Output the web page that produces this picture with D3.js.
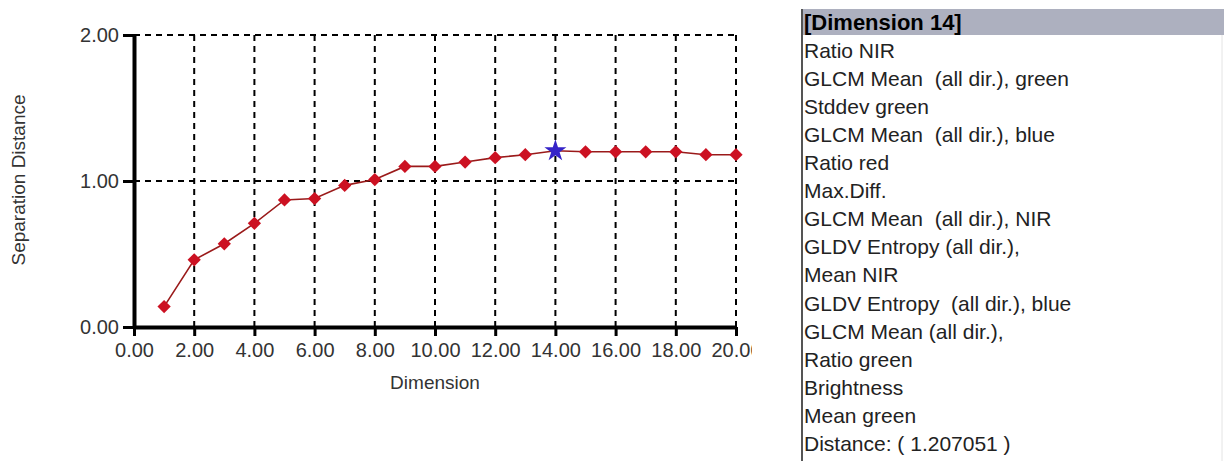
<!DOCTYPE html>
<html>
<head>
<meta charset="utf-8">
<script src="https://cdn.jsdelivr.net/npm/d3@7"></script>
<style>
  body { margin: 0; background: #fff; }
  svg { display: block; font-family: "Liberation Sans", Arial, sans-serif; }
</style>
</head>
<body>
<div id="chart"></div>
<script>
// data
var dimensions = [1, 2, 3, 4, 5, 6, 7, 8, 9, 10, 11, 12, 13, 14, 15, 16, 17, 18, 19, 20];
var distances = [0.14, 0.46, 0.57, 0.71, 0.87, 0.88, 0.97, 1.01, 1.10, 1.10, 1.13, 1.16, 1.18, 1.207, 1.20, 1.20, 1.20, 1.20, 1.18, 1.18];
var selectedDim = 14;
var xTicks = [0, 2, 4, 6, 8, 10, 12, 14, 16, 18, 20];
var yTicks = [0, 1, 2];
var listTitle = "[Dimension 14]";
var features = [
    "Ratio NIR",
    "GLCM Mean  (all dir.), green",
    "Stddev green",
    "GLCM Mean  (all dir.), blue",
    "Ratio red",
    "Max.Diff.",
    "GLCM Mean  (all dir.), NIR",
    "GLDV Entropy (all dir.),",
    "Mean NIR",
    "GLDV Entropy  (all dir.), blue",
    "GLCM Mean (all dir.),",
    "Ratio green",
    "Brightness",
    "Mean green"
];
var distanceText = "Distance: ( 1.207051 )";

var width = 1224, height = 461;

var svg = d3.select("#chart").append("svg")
    .attr("width", width)
    .attr("height", height);

// the chart control is cut off on its right side
svg.append("clipPath").attr("id", "chartclip")
    .append("rect").attr("x", 0).attr("y", 0).attr("width", 752).attr("height", height);
var chart = svg.append("g").attr("clip-path", "url(#chartclip)");

var x = d3.scaleLinear().domain([0, 20]).range([134, 736]);
var y = d3.scaleLinear().domain([0, 2]).range([327, 35]);

// dashed grid
var grid = chart.append("g");
grid.selectAll("line.vx")
    .data(xTicks.filter(function(d) { return d > 0; }))
    .enter().append("line")
    .attr("x1", function(d) { return x(d); })
    .attr("x2", function(d) { return x(d); })
    .attr("y1", y(2))
    .attr("y2", y(0))
    .attr("stroke", "#000")
    .attr("stroke-width", 2)
    .attr("stroke-dasharray", "6,5");
grid.selectAll("line.hy")
    .data(yTicks.filter(function(d) { return d > 0; }))
    .enter().append("line")
    .attr("x1", x(0))
    .attr("x2", x(20))
    .attr("y1", function(d) { return y(d); })
    .attr("y2", function(d) { return y(d); })
    .attr("stroke", "#000")
    .attr("stroke-width", 2)
    .attr("stroke-dasharray", "6,5");

// axes
var xAxis = chart.append("g")
    .attr("transform", "translate(0," + y(0) + ")")
    .call(d3.axisBottom(x).tickValues(xTicks).tickFormat(d3.format(".2f")).tickSize(9).tickSizeOuter(0));
var yAxis = chart.append("g")
    .attr("transform", "translate(" + x(0) + ",0)")
    .call(d3.axisLeft(y).tickValues(yTicks).tickFormat(d3.format(".2f")).tickSize(11).tickSizeOuter(0));

[xAxis, yAxis].forEach(function(a) {
    a.select(".domain").attr("stroke", "#000").attr("stroke-width", 4);
    a.selectAll(".tick line").attr("stroke", "#000").attr("stroke-width", 3);
    a.selectAll(".tick text")
	.attr("fill", "#333")
	.attr("font-size", 20)
	.attr("font-family", "'Liberation Sans', Arial, sans-serif");
});
xAxis.selectAll(".tick text").attr("dy", "0.95em").attr("y", 11);
yAxis.selectAll(".tick text").attr("x", -15);

// axis titles
chart.append("text")
    .attr("x", x(10))
    .attr("y", 389)
    .attr("text-anchor", "middle")
    .attr("font-size", 19)
    .attr("fill", "#333")
    .text("Dimension");
chart.append("text")
    .attr("transform", "translate(25,180) rotate(-90)")
    .attr("text-anchor", "middle")
    .attr("font-size", 19)
    .attr("fill", "#333")
    .text("Separation Distance");

// series
var pts = dimensions.map(function(d, i) { return [d, distances[i]]; });
var line = d3.line()
    .x(function(d) { return x(d[0]); })
    .y(function(d) { return y(d[1]); });
chart.append("path")
    .datum(pts)
    .attr("d", line)
    .attr("fill", "none")
    .attr("stroke", "#9a1a1a")
    .attr("stroke-width", 1.6);

var square = d3.symbol().type(d3.symbolSquare).size(88);
var star = d3.symbol().type(d3.symbolStar).size(150);
chart.selectAll("path.pt")
    .data(pts)
    .enter().append("path")
    .attr("class", "pt")
    .attr("transform", function(d) {
	var t = "translate(" + x(d[0]) + "," + y(d[1]) + ")";
	return d[0] === selectedDim ? t : t + " rotate(45)";
    })
    .attr("d", function(d) { return d[0] === selectedDim ? star() : square(); })
    .attr("fill", function(d) { return d[0] === selectedDim ? "#3523c8" : "#cc1122"; });

// list panel on the right
var list = svg.append("g");
list.append("rect")
    .attr("x", 803).attr("y", 9)
    .attr("width", width - 803).attr("height", 26)
    .attr("fill", "#adb0bf");
list.append("line")
    .attr("x1", 802).attr("x2", 802)
    .attr("y1", 9).attr("y2", height)
    .attr("stroke", "#555").attr("stroke-width", 2);
list.append("line")
    .attr("x1", 1222).attr("x2", 1222)
    .attr("y1", 35).attr("y2", height)
    .attr("stroke", "#e4e4e4").attr("stroke-width", 1);

var rowY = d3.scaleLinear().domain([0, 1]).range([22, 50.1]);
list.append("text")
    .attr("x", 804)
    .attr("y", rowY(0) + 8)
    .attr("font-size", 22)
    .attr("font-weight", "bold")
    .attr("fill", "#000")
    .text(listTitle);
list.selectAll("text.feat")
    .data(features.concat([distanceText]))
    .enter().append("text")
    .attr("class", "feat")
    .attr("x", 804)
    .attr("y", function(d, i) { return rowY(i + 1) + 7.5; })
    .attr("font-size", 21)
    .attr("fill", "#222")
    .style("white-space", "pre")
    .text(function(d) { return d; });
</script>
</body>
</html>
